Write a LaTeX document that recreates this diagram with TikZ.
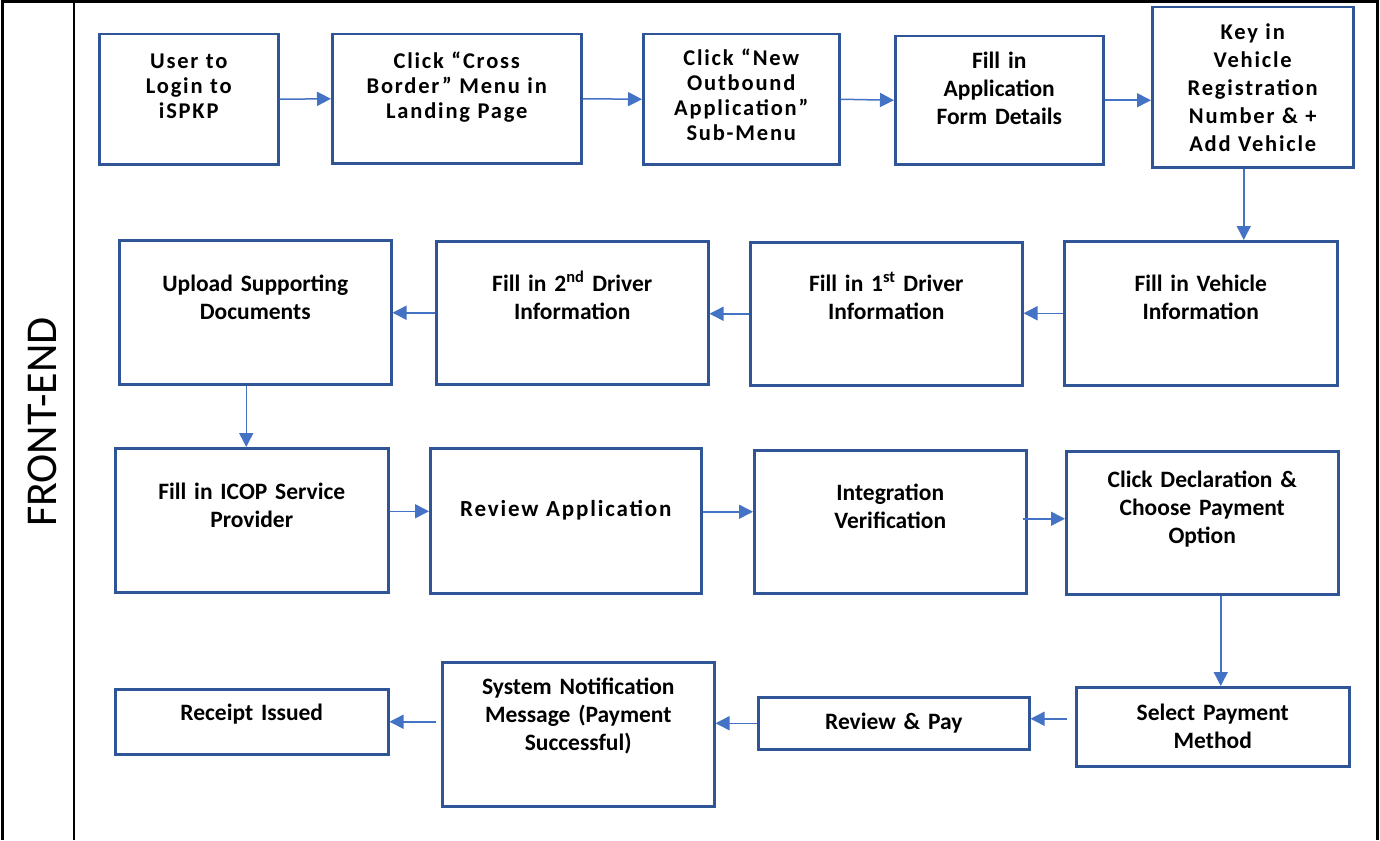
\documentclass[tikz,border=0pt]{standalone}
\usepackage{fontspec}
\setmainfont{Carlito}
\newfontfamily\spacedfont{Carlito}[LetterSpace=8]
\usepackage{tikz}
\usetikzlibrary{positioning,arrows.meta}
\definecolor{boxblue}{HTML}{2F5597}
\definecolor{arrowblue}{HTML}{4472C4}

\begin{document}
\begin{tikzpicture}[x=1pt,y=-1pt,
box/.style={draw=boxblue,line width=2.5pt,rectangle,anchor=north west,
    inner xsep=6pt,inner ysep=0pt,align=center,
    font=\bfseries\fontsize{23.5}{28}\selectfont},
wide/.style={font=\bfseries\spacedfont\fontsize{22.5}{25}\selectfont},
flow/.style={draw=arrowblue,line width=1.5pt,-{Triangle[length=14pt,width=14pt]}}]
\useasboundingbox (0,0) rectangle (1380,840);
% frame and lane title
\draw[line width=3pt] (2,840) -- (2,1.5) -- (1377,1.5) -- (1377,840);
\draw[line width=2pt] (74,1.5) -- (74,840);
\node (lane) [rotate=90,font=\fontsize{44}{50}\selectfont] at (42,422) {FRONT-END};
% first row
\node (login) [box,wide,text width=167pt,text height=34pt,text depth=96pt] at (98,33)
    {User to\\Login to\\iSPKP};
\node (crossmenu) [box,wide,text width=237pt,text height=34pt,text depth=95pt] at (331,33)
    {Click “Cross\\Border” Menu in\\Landing Page};
\node (newout) [box,wide,text width=184pt,text height=31pt,text depth=99pt] at (642,33)
    {Click “New\\Outbound\\Application”\\Sub-Menu};
\node (formdet) [box,text width=196pt,text height=32pt,text depth=96pt] at (894,35)
    {Fill in\\Application\\Form Details};
\node (regno) [box,wide,text width=189pt,text height=32pt,text depth=128pt,
    font=\bfseries\spacedfont\fontsize{22.5}{28}\selectfont] at (1151,6)
    {Key in\\Vehicle\\Registration\\Number \& +\\Add Vehicle};
% second row
\node (vehicle) [box,text width=261pt,text height=50pt,text depth=94pt] at (1063,240)
    {Fill in Vehicle\\Information};
\node (driverone) [box,text width=260pt,text height=49pt,text depth=94pt] at (749,241)
    {Fill in 1\textsuperscript{st} Driver\\Information};
\node (drivertwo) [box,text width=260pt,text height=50pt,text depth=93pt] at (435,240)
    {Fill in 2\textsuperscript{nd} Driver\\Information};
\node (upload) [box,text width=260pt,text height=51pt,text depth=93pt] at (118,239)
    {Upload Supporting\\Documents};
% third row
\node (icop) [box,text width=261pt,text height=51pt,text depth=93pt] at (114,447)
    {Fill in ICOP Service\\Provider};
\node (review) [box,wide,text width=259pt,text height=68pt,text depth=77pt,
    font=\bfseries\spacedfont\fontsize{23}{28}\selectfont] at (429,447)
    {Review Application};
\node (integ) [box,text width=260pt,text height=50pt,text depth=93pt] at (753,449)
    {Integration\\Verification};
\node (declar) [box,text width=260pt,text height=36pt,text depth=107pt] at (1065,450)
    {Click Declaration \&\\Choose Payment\\Option};
% fourth row
\node (paymethod) [box,text width=261pt,text height=33pt,text depth=46pt] at (1075,686)
    {Select Payment\\Method};
\node (pay) [box,text width=259pt,text height=32pt,text depth=20pt] at (757,696)
    {Review \& Pay};
\node (notify) [box,text width=260pt,text height=32pt,text depth=112pt] at (441,661)
    {System Notification\\Message (Payment\\Successful)};
\node (receipt) [box,text width=261pt,text height=31pt,text depth=34pt] at (114,688)
    {Receipt Issued};
% connectors
\draw[flow] (login.east) -- (crossmenu.west);
\draw[flow] (crossmenu.east) -- (newout.west);
\draw[flow] (newout.east) -- (formdet.west);
\draw[flow] (formdet.east) -- (formdet.east -| regno.west);
\draw[flow] ([xshift=-9pt]regno.south) -- ([xshift=-9pt]regno.south |- vehicle.north);
\draw[flow] (vehicle.west) -- (vehicle.west -| driverone.east);
\draw[flow] (driverone.west) -- (driverone.west -| drivertwo.east);
\draw[flow] (drivertwo.west) -- (drivertwo.west -| upload.east);
\draw[flow] ([xshift=-9pt]upload.south) -- ([xshift=-9pt]upload.south |- icop.north);
\draw[flow] ([yshift=9pt]icop.east) -- ([yshift=9pt]icop.east -| review.west);
\draw[flow] ([yshift=9pt]review.east) -- ([yshift=9pt]review.east -| integ.west);
\draw[flow] ([xshift=-5pt,yshift=3pt]integ.east) -- ([yshift=3pt]integ.east -| declar.west);
\draw[flow] ([xshift=8pt]paymethod.north |- declar.south) -- ([xshift=8pt]paymethod.north);
\draw[flow] ([xshift=-8pt,yshift=8pt]paymethod.west) -- ([yshift=8pt]paymethod.west -| pay.east);
\draw[flow] (pay.west) -- (pay.west -| notify.east);
\draw[flow] ([xshift=-5pt]receipt.east -| notify.west) -- (receipt.east);
\end{tikzpicture}
\end{document}
